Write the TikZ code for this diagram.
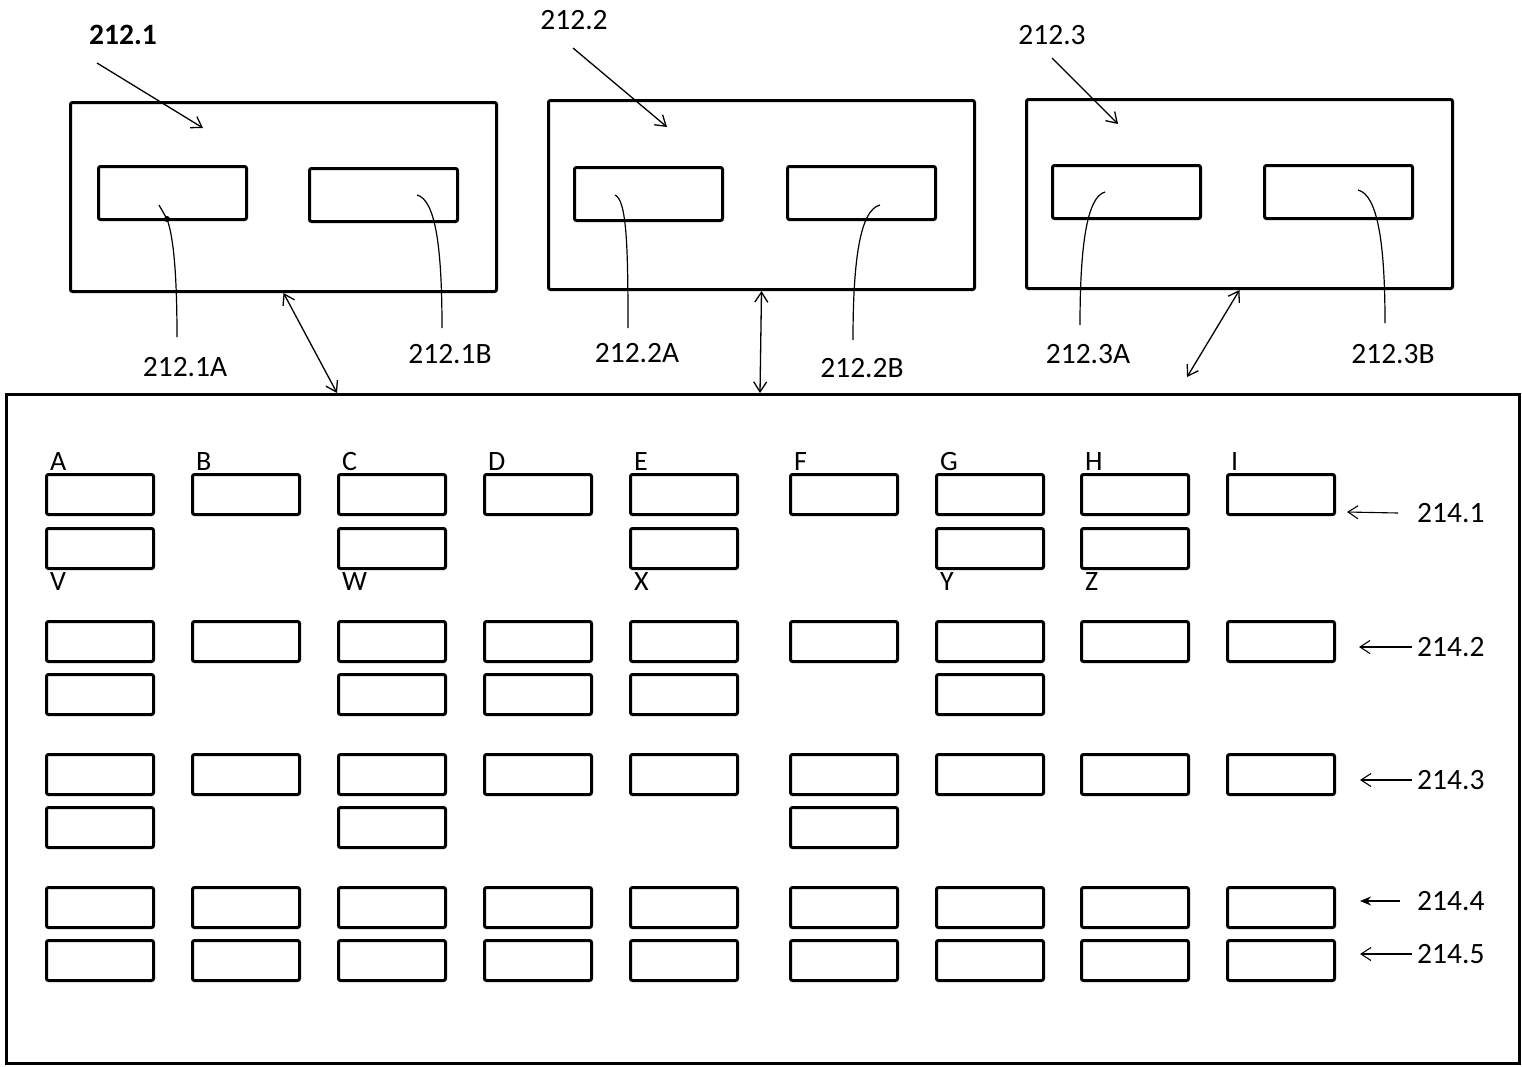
\documentclass[tikz,border=0pt]{standalone}
\usepackage{fontspec}
\setmainfont{Carlito}
\usetikzlibrary{arrows.meta,calc}
\begin{document}
\begin{tikzpicture}[x=1pt,y=-1pt,
  box/.style={draw,line width=3pt,rounded corners=2pt,inner sep=0pt,anchor=north west},
  outer/.style={box,minimum width=426pt,minimum height=189pt},
  inner/.style={box,minimum width=148pt,minimum height=53pt},
  cell/.style={box,minimum width=107pt,minimum height=40pt},
  lab/.style={font=\fontsize{29.5}{32}\selectfont,inner sep=0pt},
  letter/.style={font=\fontsize{28}{30}\selectfont,inner sep=0pt,anchor=base west},
  lead/.style={line width=1.2pt},
  arr/.style={line width=1.3pt,-{Straight Barb[length=10pt,width=13pt]}},
  darr/.style={line width=1.3pt,{Straight Barb[length=10pt,width=13pt]}-{Straight Barb[length=10pt,width=13pt]}},
  farr/.style={line width=1.5pt,-{Stealth[length=11pt,width=9pt]}},
]
\useasboundingbox (0,0) rectangle (1522,1066);

% top units
\node[outer] (b1) at (69,101) {};
\node[outer] (b2) at (547,99) {};
\node[outer] (b3) at (1025,98) {};
\node[inner] (b1a) at (97,165) {};
\node[inner] (b1b) at (308,167) {};
\node[inner] (b2a) at (573,166) {};
\node[inner] (b2b) at (786,165) {};
\node[inner] (b3a) at (1051,164) {};
\node[inner] (b3b) at (1263,164) {};

% main box
\node[box,rounded corners=0pt,line width=2.6pt,minimum width=1513pt,minimum height=669pt] (main) at (5,393) {};

% top labels and arrows
\node[lab,font=\fontsize{29.5}{32}\selectfont\bfseries] (t1) at (123,35) {212.1};
\node[lab] (t2) at (574,20) {212.2};
\node[lab] (t3) at (1052,35) {212.3};
\coordinate (t1e) at (203,128);
\coordinate (t2e) at (667,127);
\coordinate (t3e) at (1118,124);
\draw[arr] (97,63) -- (t1e);
\draw[arr] (573,48) -- (t2e);
\draw[arr] (1052,58) -- (t3e);

% sub labels and leader lines
\node[lab] (l1a) at (185,367) {212.1A};
\node[lab] (l1b) at (450,354) {212.1B};
\node[lab] (l2a) at (637,353) {212.2A};
\node[lab] (l2b) at (862,368) {212.2B};
\node[lab] (l3a) at (1088,354) {212.3A};
\node[lab] (l3b) at (1393,354) {212.3B};

\coordinate (p1a) at (167,219);
\coordinate (p1b) at (417,195);
\coordinate (p2a) at (615,195);
\coordinate (p2b) at (880,205);
\coordinate (p3a) at (1105,192);
\coordinate (p3b) at (1358,190);

\draw[lead] (177,337) .. controls (177,270) and (173,235) .. (p1a) -- (159,205);
\fill (p1a) circle (3pt);
\draw[lead] (442,328) .. controls (442,250) and (436,200) .. (p1b);
\draw[lead] (628,328) .. controls (628,250) and (627,200) .. (p2a);
\draw[lead] (853,340) .. controls (853,260) and (860,210) .. (p2b);
\draw[lead] (1080,325) .. controls (1080,245) and (1087,197) .. (p3a);
\draw[lead] (1385,323) .. controls (1385,245) and (1378,195) .. (p3b);

% bidirectional arrows
\coordinate (m1) at ([xshift=332pt]main.north west);
\coordinate (m2) at ([xshift=755pt]main.north west);
\coordinate (m3) at (1187,377);
\draw[darr] (b1.south) -- (m1);
\draw[darr] (b2.south) -- (m2);
\draw[darr] (b3.south) -- (m3);

% grid of cells
\foreach \c/\x in {A/45,B/191,C/337,D/483,E/629,F/789,G/935,H/1080,I/1226} {
  \node[cell] (r1a-\c) at (\x,473) {};
  \node[cell] (r2a-\c) at (\x,620) {};
  \node[cell] (r3a-\c) at (\x,753) {};
  \node[cell] (r4-\c) at (\x,886) {};
  \node[cell] (r5-\c) at (\x,939) {};
  \node[letter] (lt-\c) at (\x+5,470) {\c};
}
\foreach \c/\x in {A/45,C/337,E/629,G/935,H/1080}
  \node[cell] (r1b-\c) at (\x,527) {};
\foreach \c/\x in {A/45,C/337,D/483,E/629,G/935}
  \node[cell] (r2b-\c) at (\x,673) {};
\foreach \c/\x in {A/45,C/337,F/789}
  \node[cell] (r3b-\c) at (\x,806) {};
\foreach \c/\x in {V/45,W/337,X/629,Y/935,Z/1080}
  \node[letter] (lt-\c) at (\x+5,590) {\c};

% row labels
\node[lab,anchor=west] (q1) at (1417,513) {214.1};
\node[lab,anchor=west] (q2) at (1417,647) {214.2};
\node[lab,anchor=west] (q3) at (1417,780) {214.3};
\node[lab,anchor=west] (q4) at (1417,901) {214.4};
\node[lab,anchor=west] (q5) at (1417,954) {214.5};
\coordinate (e1) at (1347,512);
\coordinate (e2) at (1359,647);
\coordinate (e3) at (1360,780);
\coordinate (e4) at (1360,901);
\coordinate (e5) at (1360,954);
\draw[arr,line width=1.1pt] ([xshift=-19pt]q1.west) -- (e1);
\draw[arr,line width=1.1pt] ([xshift=-5pt]q2.west) -- (e2);
\draw[arr,line width=1.1pt] ([xshift=-5pt]q3.west) -- (e3);
\draw[farr] ([xshift=-17pt]q4.west) -- (e4);
\draw[arr,line width=1.1pt] ([xshift=-5pt]q5.west) -- (e5);
\end{tikzpicture}
\end{document}
